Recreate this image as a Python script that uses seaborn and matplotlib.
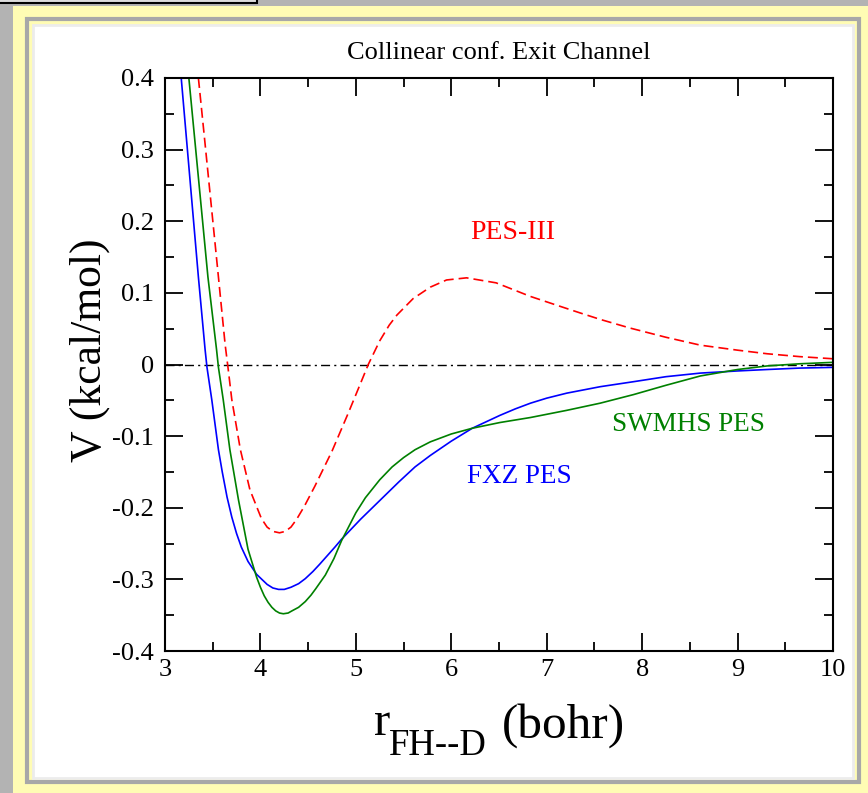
import numpy as np
import pandas as pd
import seaborn as sns
import matplotlib.pyplot as plt
from matplotlib.patches import Rectangle
from matplotlib.ticker import MultipleLocator

# values (r in bohr, V in kcal/mol)
r_fxz = [3.17, 3.26, 3.35, 3.42, 3.44, 3.49, 3.56, 3.60, 3.65, 3.70, 3.75, 3.80, 3.87, 3.96,
         4.07, 4.13, 4.19, 4.25, 4.32, 4.40, 4.47, 4.55, 4.62, 4.70, 4.78, 4.85, 5.05, 5.25, 5.45,
         5.62, 5.78, 6.00, 6.22, 6.51, 6.67, 6.83, 7.00, 7.21, 7.56, 7.91, 8.25, 8.61, 9.00, 9.31,
         9.65, 10.0]
v_fxz = [0.40, 0.261, 0.122, 0.021, -0.004, -0.049, -0.119, -0.150, -0.185, -0.213, -0.236, -0.255, -0.275, -0.293,
         -0.307, -0.312, -0.314, -0.314, -0.311, -0.306, -0.299, -0.289, -0.279, -0.267, -0.255, -0.244, -0.216, -0.190, -0.164,
         -0.143, -0.127, -0.107, -0.089, -0.071, -0.062, -0.054, -0.047, -0.040, -0.031, -0.024, -0.017, -0.012, -0.009, -0.007,
         -0.005, -0.004]

r_swmhs = [3.25, 3.35, 3.45, 3.54, 3.56, 3.61, 3.68, 3.77, 3.87, 3.96, 4.00, 4.04, 4.08, 4.12,
           4.16, 4.20, 4.24, 4.29, 4.33, 4.40, 4.47, 4.53, 4.58, 4.68, 4.77, 4.85, 5.00, 5.10, 5.25,
           5.38, 5.50, 5.62, 5.78, 6.00, 6.22, 6.51, 6.83, 7.21, 7.56, 7.91, 8.25, 8.61, 9.00, 9.31,
           9.65, 10.0]
v_swmhs = [0.40, 0.261, 0.122, 0.021, -0.004, -0.049, -0.119, -0.189, -0.258, -0.297, -0.311, -0.323, -0.332, -0.339,
           -0.344, -0.347, -0.348, -0.347, -0.344, -0.339, -0.331, -0.322, -0.313, -0.294, -0.271, -0.246, -0.207, -0.186, -0.161,
           -0.143, -0.130, -0.119, -0.108, -0.097, -0.089, -0.081, -0.074, -0.064, -0.054, -0.042, -0.029, -0.016, -0.007, -0.002,
           0.001, 0.003]

r_pes3 = [3.35, 3.42, 3.49, 3.56, 3.63, 3.66, 3.70, 3.79, 3.89, 4.01, 4.07, 4.13, 4.20,
          4.26, 4.32, 4.38, 4.46, 4.57, 4.75, 4.92, 5.05, 5.13, 5.25, 5.35, 5.43, 5.60, 5.78, 5.95,
          6.16, 6.47, 6.83, 7.10, 7.35, 7.56, 7.87, 8.25, 8.61, 9.00, 9.31, 9.65, 10.0]
v_pes3 = [0.40, 0.308, 0.215, 0.122, 0.028, -0.004, -0.049, -0.119, -0.175, -0.215, -0.227, -0.233, -0.235,
          -0.233, -0.227, -0.216, -0.198, -0.170, -0.121, -0.068, -0.026, 0.0, 0.033, 0.055, 0.069, 0.092, 0.108, 0.118,
          0.121, 0.114, 0.095, 0.083, 0.072, 0.063, 0.051, 0.038, 0.027, 0.020, 0.015, 0.011, 0.008]

x_ticks = [3, 4, 5, 6, 7, 8, 9, 10]
y_ticks = [-0.4, -0.3, -0.2, -0.1, 0.0, 0.1, 0.2, 0.3, 0.4]
y_tick_labels = ["-0.4", "-0.3", "-0.2", "-0.1", "0", "0.1", "0.2", "0.3", "0.4"]

W, H = 868, 793

sns.set_style("ticks")
plt.rcParams["font.family"] = ["Liberation Serif", "DejaVu Serif"]
plt.rcParams["axes.unicode_minus"] = False
plt.rcParams["text.color"] = "black"
plt.rcParams["axes.labelcolor"] = "black"

fig = plt.figure(figsize=(W / 100, H / 100), dpi=100, facecolor="#fffcb4")


def box(x0, y0, x1, y1, **kw):
    # pixel box (top-left origin) -> figure patch, kept behind the axes
    fig.patches.append(Rectangle((x0 / W, 1 - y1 / H), (x1 - x0) / W, (y1 - y0) / H,
                                 transform=fig.transFigure, zorder=-5, **kw))


# window frame round the white panel
box(0, 0, 13, H, facecolor="#b3b3b3", edgecolor="none")
box(0, 0, W, 6, facecolor="#b3b3b3", edgecolor="none")
box(-2, -10, 257, 2.5, facecolor="#dcdcdc", edgecolor="black", linewidth=1.5)
box(27, 19, 859, 782, facecolor="none", edgecolor="#a8a8a8", linewidth=3)
box(33, 25, 853, 778, facecolor="white", edgecolor="#ececec", linewidth=2)

ax = fig.add_axes([165 / W, 1 - 651 / H, (833 - 165) / W, (651 - 78) / H])
ax.set_facecolor("white")

ax.axhline(0, color="black", lw=1.0, linestyle=(0, (6.5, 3, 1.5, 3)), zorder=1)

df_fxz = pd.DataFrame({"r": r_fxz, "V": v_fxz})
df_sw = pd.DataFrame({"r": r_swmhs, "V": v_swmhs})
df_p3 = pd.DataFrame({"r": r_pes3, "V": v_pes3})

sns.lineplot(data=df_fxz, x="r", y="V", ax=ax, color="#0000ff", lw=1.2, sort=False)
sns.lineplot(data=df_sw, x="r", y="V", ax=ax, color="#008000", lw=1.2, sort=False)
sns.lineplot(data=df_p3, x="r", y="V", ax=ax, color="#ff0000", lw=1.2, sort=False,
             linestyle=(0, (6, 3)))

ax.set_xlim(3, 10)
ax.set_ylim(-0.4, 0.4)
ax.set_xticks(x_ticks)
ax.set_xticklabels([str(t) for t in x_ticks])
ax.set_yticks(y_ticks)
ax.set_yticklabels(y_tick_labels)
ax.xaxis.set_minor_locator(MultipleLocator(0.5))
ax.yaxis.set_minor_locator(MultipleLocator(0.05))
ax.tick_params(which="both", direction="in", top=True, right=True, width=1.3,
               labelsize=19, colors="black")
ax.tick_params(which="major", length=13)
ax.tick_params(which="minor", length=6.5)
ax.tick_params(axis="x", pad=6)
ax.tick_params(axis="y", pad=8)
for s in ax.spines.values():
    s.set_linewidth(1.5)
    s.set_color("black")

ax.set_xlabel("")
ax.set_ylabel("V (kcal/mol)", fontsize=31.5)
ax.yaxis.set_label_coords(-0.082, 0.525)
ax.set_title("Collinear conf. Exit Channel", fontsize=19, pad=14)

ax.text(6.64, 0.184, "PES-III", color="#ff0000", fontsize=20, ha="center", va="center")
ax.text(8.48, -0.084, "SWMHS PES", color="#008000", fontsize=19.5, ha="center", va="center")
ax.text(6.71, -0.156, "FXZ PES", color="#0000ff", fontsize=19.5, ha="center", va="center")

# x label with subscript, built from pieces
fig.text(374 / W, 1 - 735 / H, "r", fontsize=35, ha="left", va="baseline")
fig.text(389 / W, 1 - 755 / H, "FH--D", fontsize=26.5, ha="left", va="baseline")
fig.text(502 / W, 1 - 738 / H, "(bohr)", fontsize=35.5, ha="left", va="baseline")

fig.savefig("out.png", dpi=100, facecolor=fig.get_facecolor())
